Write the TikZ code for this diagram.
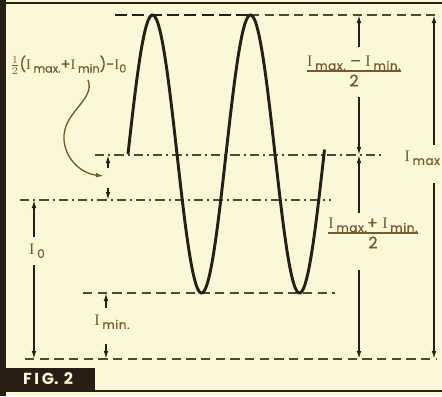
\documentclass[tikz,border=0pt]{standalone}
\usepackage{fontspec}
\setmainfont{Poppins}
\newfontfamily\labfont[FakeBold=0.6]{Poppins}
\newfontfamily\ifont{Liberation Serif}
\usetikzlibrary{arrows.meta}
\definecolor{paper}{RGB}{250,248,214}
\definecolor{ink}{RGB}{40,30,20}
\definecolor{dashink}{RGB}{85,72,50}
\definecolor{lbl}{RGB}{120,88,45}
\newcommand{\II}{{\ifont I}}
\newcommand{\sbs}[1]{\,\raisebox{-2.6pt}{\fontsize{9}{10}\selectfont\addfontfeature{LetterSpace=5}#1}}
\newcommand{\sbt}[1]{\raisebox{-2.4pt}{\fontsize{8.5}{9}\selectfont #1}}
\setlength{\arrayrulewidth}{0.9pt}
\begin{document}
\begin{tikzpicture}[x=0.75pt,y=-0.75pt,
  wave/.style={ink, line width=2.2pt},
  hdash/.style={dashink, line width=1.1pt, dash pattern=on 7pt off 4pt},
  hdashdot/.style={dashink, line width=1.1pt, dash pattern=on 7pt off 3pt on 1.5pt off 3pt},
  topdash/.style={ink, line width=2pt, dash pattern=on 9pt off 4pt},
  dim/.style={ink, line width=1.1pt, -{Latex[length=6pt,width=3.5pt]}},
  lab/.style={text=lbl, font=\labfont\fontsize{12}{13}\selectfont, inner sep=1pt}]
\fill[paper] (0,0) rectangle (442,396);
\useasboundingbox (0,0) rectangle (442,396);
% frame
\fill[ink] (0,0) rectangle (6,396);
\draw[ink, line width=1.2pt] (0,3) -- (442,3);
\draw[ink, line width=1.4pt] (0,391) -- (442,391);
\node[fill=ink, text=paper, font=\bfseries\fontsize{12}{13}\selectfont, minimum width=71pt, minimum height=16pt, inner sep=0pt] (fig) at (48,379) {F\,I\,G.\,\,2};
% horizontal reference lines
\coordinate (tL) at (115,15); \coordinate (tM) at (250,15); \coordinate (tR) at (440,15);
\draw[topdash] (tL) -- (tM);
\draw[hdash] (tM) -- (tR);
\coordinate (mL) at (95,155); \coordinate (mR) at (381,155);
\draw[hdashdot] (mL) -- (mR);
\coordinate (oL) at (20,200); \coordinate (oR) at (331,200);
\draw[hdashdot] (oL) -- (oR);
\coordinate (nL) at (83,293); \coordinate (nR) at (335,293);
\draw[hdash] (nL) -- (nR);
\coordinate (zL) at (25,359); \coordinate (zR) at (436,359);
\draw[hdash] (zL) -- (zR);
% wave
\draw[wave] plot[domain=128:324.5, samples=240, smooth] (\x, {154 - 139*sin((\x-128)/98*360)});
% I max
\node[lab, anchor=west] (imax) at (403,158) {\II\sbs{max}};
\coordinate (ax1) at (434,15); \coordinate (ax2) at (434,359);
\draw[dim] (434,145) -- (ax1);
\draw[dim] (434,183) -- (ax2);
% (Imax - Imin)/2
\node[lab] (half) at (354,73) {\begin{tabular}{@{}c@{}}\II\sbs{max.}\;–\;\II\sbs{min.}\\[-1pt]\hline\rule{0pt}{11pt}2\end{tabular}};
\coordinate (h1) at (359,15); \coordinate (h2) at (359,155); \coordinate (h3) at (359,359);
\draw[dim] (359,47) -- (h1);
\draw[dim] (359,97) -- (h2);
% (Imax + Imin)/2
\node[lab] (avg) at (373,235) {\begin{tabular}{@{}c@{}}\II\sbs{max.}+\;\II\sbs{min.}\\[-1pt]\hline\rule{0pt}{11pt}2\end{tabular}};
\draw[dim] (359,213) -- (h2);
\draw[dim] (359,270) -- (h3);
% I0
\node[lab] (izero) at (37,251) {\II\sbs{0}};
\coordinate (o1) at (34,200); \coordinate (o2) at (34,359);
\draw[dim] (34,237) -- (o1);
\draw[dim] (34,265) -- (o2);
% I min
\node[lab] (imin) at (112,322) {\II\sbs{min.}};
\coordinate (n1) at (106,293); \coordinate (n2) at (106,359);
\draw[dim] (106,308) -- (n1);
\draw[dim] (106,344) -- (n2);
% small offset arrows
\coordinate (s1) at (108,155); \coordinate (s2) at (108,200);
\draw[dim] (108,168) -- (s1);
\draw[dim] (108,188) -- (s2);
% offset label and curved pointer
\node[lab, anchor=west, font=\labfont\fontsize{11}{12}\selectfont] (off) at (9,65) {$\frac{1}{2}$(\II\,\sbt{max.}+\II\,\sbt{min})-\II\sbt{0}};
\coordinate (cs) at (88,80); \coordinate (ce) at (104,176);
\draw[lbl, line width=1pt, -{Latex[length=6pt,width=3.5pt]}] (cs) .. controls (96,100) and (62,112) .. (64,140) .. controls (66,162) and (84,174) .. (ce);
\end{tikzpicture}
\end{document}
